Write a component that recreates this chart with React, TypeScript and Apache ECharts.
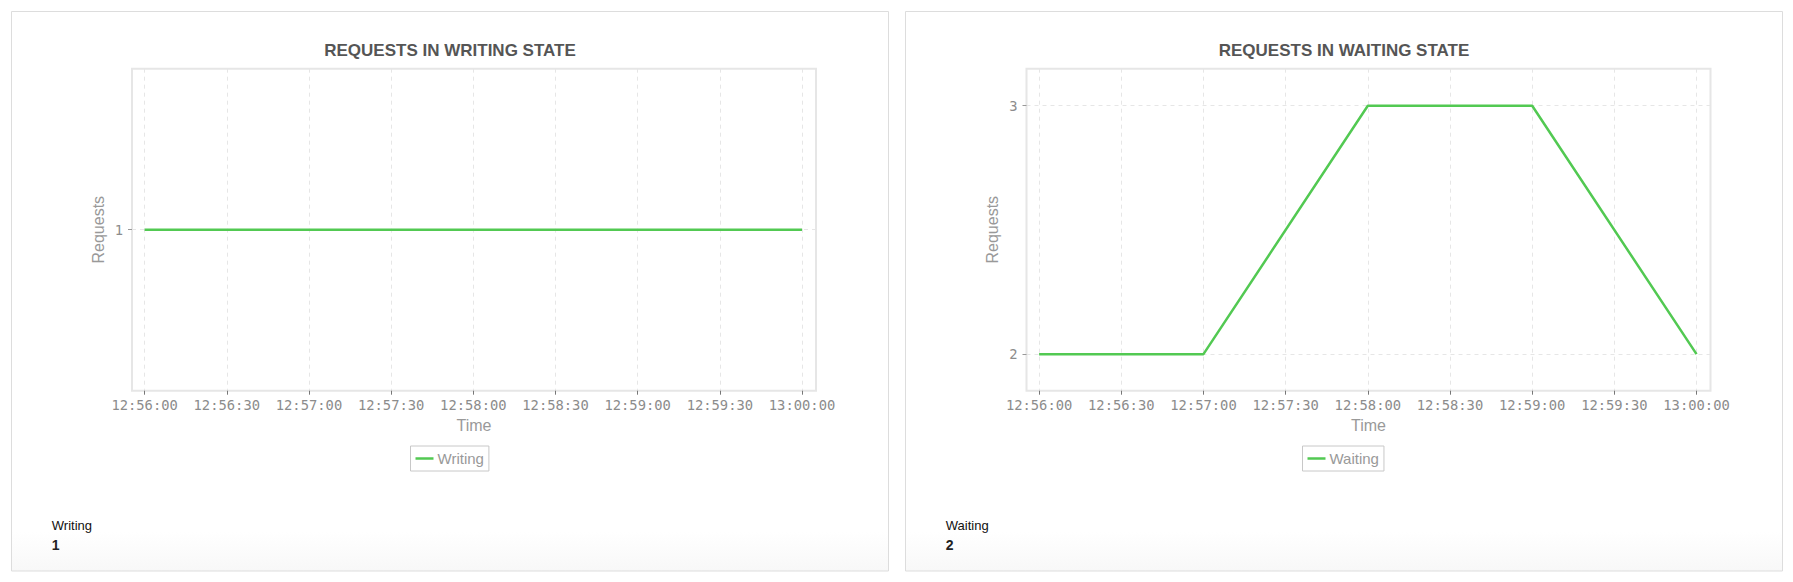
import React, { useEffect, useRef } from "react";
import * as echarts from "echarts";

// ---- data ----
const TIMES = ["12:56:00", "12:57:00", "12:58:00", "12:59:00", "13:00:00"];
const WRITING = [1, 1, 1, 1, 1];
const WAITING = [2, 2, 3, 3, 2];
const X_TICKS = [
  "12:56:00", "12:56:30", "12:57:00", "12:57:30", "12:58:00",
  "12:58:30", "12:59:00", "12:59:30", "13:00:00",
];
const WRITING_Y_TICKS = [1];
const WAITING_Y_TICKS = [2, 3];
const CURRENT_WRITING = 1;
const CURRENT_WAITING = 2;

const toSec = (s: string) => {
  const [h, m, x] = s.split(":").map(Number);
  return h * 3600 + m * 60 + x;
};
const pad = (n: number) => (n < 10 ? "0" + n : "" + n);
const fmt = (v: number) => {
  const t = Math.round(v);
  return pad(Math.floor(t / 3600)) + ":" + pad(Math.floor((t % 3600) / 60)) + ":" + pad(t % 60);
};

const GREEN = "#52c952";
const SANS = "'Liberation Sans', Arial, sans-serif";
const MONO = "'DejaVu Sans Mono', monospace";

const PANELS = [
  { title: "REQUESTS IN WRITING STATE", name: "Writing", data: WRITING, yTicks: WRITING_Y_TICKS, yMin: 0, yMax: 2, current: CURRENT_WRITING, px: 11.5, gridLeft: 132 },
  { title: "REQUESTS IN WAITING STATE", name: "Waiting", data: WAITING, yTicks: WAITING_Y_TICKS, yMin: 1.853, yMax: 3.149, current: CURRENT_WAITING, px: 905.5, gridLeft: 1026.5 },
];

export default function App() {
  const ref = useRef<HTMLDivElement>(null);
  useEffect(() => {
    if (!ref.current) return;
    const chart = echarts.init(ref.current, undefined, { renderer: "svg" });
    const xMin = toSec(TIMES[0]) - 4.6;
    const xMax = toSec(TIMES[TIMES.length - 1]) + 5.1;
    const xTickVals = X_TICKS.map(toSec);

    const graphic: any[] = [];
    PANELS.forEach((p) => {
      const cx = p.px + 438.5;
      graphic.push({
        type: "rect",
        z: -100,
        shape: { x: p.px, y: 11.5, width: 877, height: 559.5 },
        style: {
          fill: new echarts.graphic.LinearGradient(0, 0, 0, 1, [
            { offset: 0, color: "#ffffff" },
            { offset: 0.93, color: "#ffffff" },
            { offset: 1, color: "#f8f8f8" },
          ]),
          stroke: "#dddddd",
          lineWidth: 1,
        },
      });
      graphic.push({
        type: "text",
        x: cx,
        y: 50,
        style: {
          text: p.title,
          align: "center",
          verticalAlign: "middle",
          fontSize: 17,
          fontWeight: "bold",
          fontFamily: SANS,
          fill: "#555555",
        },
      });
      graphic.push({
        type: "text",
        x: p.px + 40.3,
        y: 525,
        style: {
          text: p.name,
          align: "left",
          verticalAlign: "middle",
          fontSize: 13,
          fontFamily: SANS,
          fill: "#111111",
        },
      });
      graphic.push({
        type: "text",
        x: p.px + 40.3,
        y: 545,
        style: {
          text: String(p.current),
          align: "left",
          verticalAlign: "middle",
          fontSize: 14,
          fontWeight: "bold",
          fontFamily: SANS,
          fill: "#222222",
        },
      });
    });

    const option: any = {
      animation: false,
      backgroundColor: "#ffffff",
      graphic,
      grid: PANELS.map((p) => ({
        left: p.gridLeft,
        top: 68.7,
        width: 684,
        height: 322,
        show: true,
        borderColor: "#e6e6e6",
        borderWidth: 2,
        backgroundColor: "transparent",
        containLabel: false,
      })),
      legend: PANELS.map((p) => {
        const cx = p.px + 438.5;
        const w = p.name === "Writing" ? 79 : 83;
        return {
          data: [p.name],
          left: cx - w / 2,
          top: 446,
          orient: "horizontal",
          padding: [4, 5, 4, 5],
          borderColor: "#c8c8c8",
          borderWidth: 1,
          itemWidth: 18,
          itemHeight: 2.5,
          itemGap: 0,
          icon: "rect",
          selectedMode: false,
          textStyle: { color: "#999999", fontSize: 15, fontFamily: SANS, lineHeight: 17, padding: [0, 0, 0, -1] },
        };
      }),
      xAxis: PANELS.map((p, i) => ({
        type: "value",
        gridIndex: i,
        min: xMin,
        max: xMax,
        axisLine: { show: false },
        axisTick: { show: true, customValues: xTickVals, length: 4, lineStyle: { color: "#777777" } },
        axisLabel: {
          customValues: xTickVals,
          formatter: (v: number) => fmt(v),
          color: "#8c8c8c",
          fontFamily: MONO,
          fontSize: 13.8,
          margin: 7,
        },
        splitLine: { show: true, lineStyle: { type: [4, 4], color: "#e6e6e6", width: 1 } },
        name: "Time",
        nameLocation: "middle",
        nameGap: 27,
        nameTextStyle: { color: "#999999", fontSize: 16, fontFamily: SANS },
      })),
      yAxis: PANELS.map((p, i) => ({
        type: "value",
        gridIndex: i,
        min: p.yMin,
        max: p.yMax,
        axisLine: { show: false },
        axisTick: { show: true, customValues: p.yTicks, length: 4, lineStyle: { color: "#999999" } },
        axisLabel: {
          customValues: p.yTicks,
          color: "#8c8c8c",
          fontFamily: MONO,
          fontSize: 13.8,
          margin: 9,
        },
        splitLine: { show: true, lineStyle: { type: [4, 4], color: "#e6e6e6", width: 1 } },
        name: "Requests",
        nameLocation: "middle",
        nameRotate: 90,
        nameGap: 26,
        nameTextStyle: { color: "#999999", fontSize: 16, fontFamily: SANS },
      })),
      series: PANELS.map((p, i) => ({
        type: "line",
        name: p.name,
        xAxisIndex: i,
        yAxisIndex: i,
        showSymbol: false,
        symbol: "none",
        data: TIMES.map((t, k) => [toSec(t), p.data[k]]),
        lineStyle: { color: GREEN, width: 2.5 },
        itemStyle: { color: GREEN },
      })),
    };
    chart.setOption(option);
    return () => chart.dispose();
  }, []);
  return (
    <div
      ref={ref}
      style={{ position: "absolute", left: 0, top: 0, width: 1793, height: 582 }}
    />
  );
}
